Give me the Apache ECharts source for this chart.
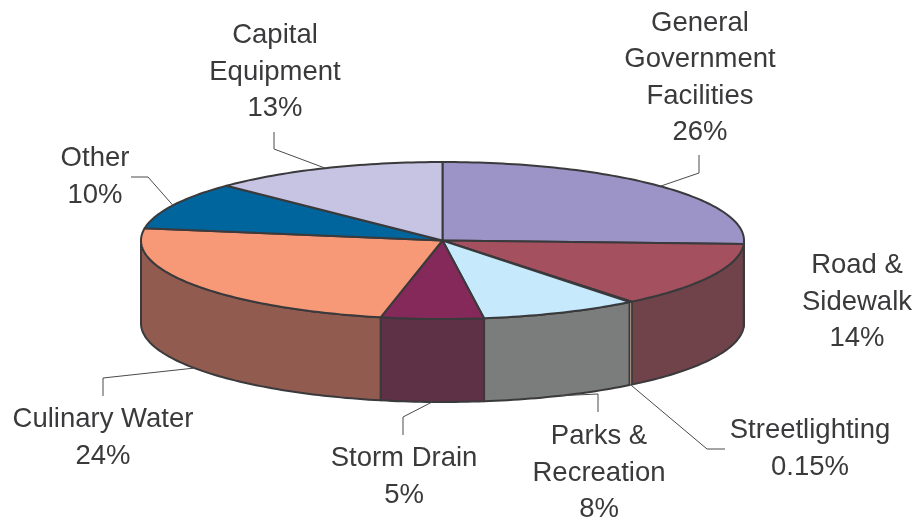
<!DOCTYPE html>
<html>
<head>
<meta charset="utf-8">
<style>
html, body { margin: 0; padding: 0; background: #fff; }
#chart { width: 916px; height: 521px; }
</style>
<script src="https://cdn.jsdelivr.net/npm/echarts@6/dist/echarts.min.js"></script>
</head>
<body>
<div id="chart"></div>
<script>
// values
var categories = ["General\nGovernment\nFacilities", "Road &\nSidewalk", "Streetlighting", "Parks &\nRecreation", "Storm Drain", "Culinary Water", "Other", "Capital\nEquipment"];
var shares = [25.7, 13.5, 0.15, 8.45, 5.49, 24.2, 9.8, 12.71];
var percentLabels = ["26%", "14%", "0.15%", "8%", "5%", "24%", "10%", "13%"];

var topColors = ["#9c93c6", "#a5505f", "#a08a78", "#c6e9fb", "#85285a", "#f79877", "#00659c", "#c6c3e3"];
var wallColors = ["#6f4049", "#704249", "#a08a78", "#7b7c7c", "#5e3146", "#915b50", "#004a72", "#91908f"];

// label centre, then elbow and end of the leader line
var labelPos = [[700, 78], [857, 302], [810, 449], [599, 473], [404, 477], [103, 438], [95, 177], [275, 72]];
var leaderPos = [
    [[699, 173], [699, 155]],
    null,
    [[707, 449], [725, 449]],
    [[598, 394], [598, 412]],
    [[403, 417], [403, 435]],
    [[103, 378], [103, 396]],
    [[148, 177], [131, 177]],
    [[274, 149], [274, 132]]
];

var cx = 442.5, cy = 240.5, rx = 301.5, ry = 78.5, depth = 83;
var edge = "#3a3a3c";
var thinSlice = 2; // Streetlighting wall, too narrow for the normal outline

function total() {
    return shares.reduce(function(a, b) { return a + b; }, 0);
}
// start and end angle of a slice, clockwise from the top
function sliceAngles(i) {
    var sum = total(), before = 0;
    for (var k = 0; k < i; k++) before += shares[k];
    return [before / sum * Math.PI * 2, (before + shares[i]) / sum * Math.PI * 2];
}
function rimPoint(t, drop) {
    return [cx + rx * Math.sin(t), cy - ry * Math.cos(t) + (drop || 0)];
}
function arcPoints(t0, t1, drop) {
    var pts = [];
    var n = Math.max(2, Math.ceil(Math.abs(t1 - t0) / 0.02));
    for (var j = 0; j <= n; j++) pts.push(rimPoint(t0 + (t1 - t0) * j / n, drop));
    return pts;
}

function renderWall(params) {
    var i = params.dataIndex;
    var a = sliceAngles(i);
    var t0 = Math.max(a[0], Math.PI / 2), t1 = Math.min(a[1], Math.PI * 1.5);
    if (t1 <= t0) return null;
    return {
        type: "polygon",
        z2: i == thinSlice ? 5 : 1,
        shape: { points: arcPoints(t0, t1, 0).concat(arcPoints(t1, t0, depth)) },
        style: { fill: wallColors[i], stroke: edge, lineWidth: i == thinSlice ? 1 : 2, lineJoin: "round" }
    };
}

function renderTop(params) {
    var a = sliceAngles(params.dataIndex);
    return {
        type: "polygon",
        shape: { points: [[cx, cy]].concat(arcPoints(a[0], a[1], 0)) },
        style: { fill: topColors[params.dataIndex], stroke: edge, lineWidth: 2, lineJoin: "round" }
    };
}

function renderLabel(params) {
    var i = params.dataIndex;
    var a = sliceAngles(i);
    var mid = (a[0] + a[1]) / 2;
    var front = mid > Math.PI / 2 && mid < Math.PI * 1.5;
    var children = [{
        type: "text",
        style: {
            x: labelPos[i][0],
            y: labelPos[i][1],
            text: categories[i] + "\n" + percentLabels[i],
            font: "27.5px 'Liberation Sans', Arial, sans-serif",
            lineHeight: 36.5,
            align: "center",
            verticalAlign: "middle",
            fill: edge
        }
    }];
    if (leaderPos[i]) {
        children.push({
            type: "polyline",
            shape: { points: [rimPoint(mid, front ? depth : 0)].concat(leaderPos[i]) },
            style: { fill: null, stroke: "#4a4a4c", lineWidth: 1 }
        });
    }
    return { type: "group", children: children };
}

var chart = echarts.init(document.getElementById("chart"));
var option = {
    animation: false,
    backgroundColor: "#fff",
    series: [{
        type: "custom",
        coordinateSystem: "none",
        data: shares,
        renderItem: renderWall,
        z: 1
    }, {
        type: "custom",
        coordinateSystem: "none",
        data: shares,
        renderItem: renderTop,
        z: 2
    }, {
        type: "custom",
        coordinateSystem: "none",
        data: shares,
        renderItem: renderLabel,
        z: 3
    }]
};
chart.setOption(option);
</script>
</body>
</html>
